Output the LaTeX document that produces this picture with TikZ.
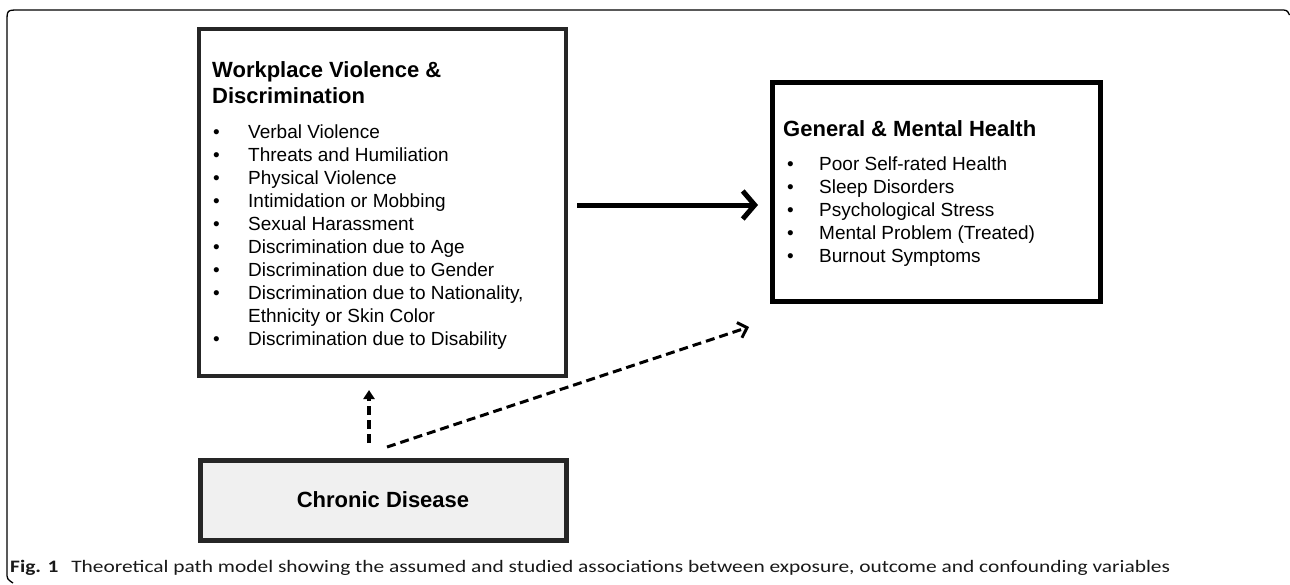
\documentclass[tikz,border=0pt]{standalone}
\usepackage{fontspec}
\setmainfont{Liberation Sans}
\newfontfamily\capfont{Carlito}
\usetikzlibrary{arrows.meta,calc}
\begin{document}
\begin{tikzpicture}[x=1pt,y=-1pt,
  box/.style={draw, rectangle, inner sep=0pt, outer sep=0pt, line join=miter},
  ttl/.style={anchor=base west, inner sep=0pt, font=\fontsize{22}{26.5}\selectfont\bfseries},
  itm/.style={anchor=base west, inner sep=0pt, font=\fontsize{19}{23}\selectfont},
  dsh/.style={line width=3.5pt, dash pattern=on 9pt off 5pt},
]
\useasboundingbox (0,0) rectangle (1290,584);
% outer frame
\draw[line width=1.3pt] (1289.5,15) .. controls (1287,10) .. (1280,10) -- (19,10)
  .. controls (7,10) .. (7,22) -- (7,572) .. controls (7,579) .. (13,583);
% boxes
\node[box, line width=4.5pt, draw=black!85, minimum width=367pt, minimum height=347pt] (wvd) at (382.5,202.5) {};
\node[box, line width=5pt, minimum width=328pt, minimum height=219pt] (gmh) at (936,191.5) {};
\node[box, line width=5pt, draw=black!85, fill=gray!12, minimum width=366pt, minimum height=80pt,
  font=\fontsize{22}{26}\selectfont\bfseries] (cd) at (383,500) {Chronic Disease};
% left box text
\node[ttl] (t1) at (212,77) {Workplace Violence \&};
\node[ttl] (t2) at (212,103.5) {Discrimination};
\node[itm] (lb1) at (213,138) {•};  \node[itm] (l1) at (248,138) {Verbal Violence};
\node[itm] (lb2) at (213,161) {•};  \node[itm] (l2) at (248,161) {Threats and Humiliation};
\node[itm] (lb3) at (213,184) {•};  \node[itm] (l3) at (248,184) {Physical Violence};
\node[itm] (lb4) at (213,207) {•};  \node[itm] (l4) at (248,207) {Intimidation or Mobbing};
\node[itm] (lb5) at (213,230) {•};  \node[itm] (l5) at (248,230) {Sexual Harassment};
\node[itm] (lb6) at (213,253) {•};  \node[itm] (l6) at (248,253) {Discrimination due to Age};
\node[itm] (lb7) at (213,276) {•};  \node[itm] (l7) at (248,276) {Discrimination due to Gender};
\node[itm] (lb8) at (213,299) {•};  \node[itm] (l8) at (248,299) {Discrimination due to Nationality,};
\node[itm] (l8b) at (248,322) {Ethnicity or Skin Color};
\node[itm] (lb9) at (213,345) {•};  \node[itm] (l9) at (248,345) {Discrimination due to Disability};
% right box text
\node[ttl] (t3) at (783,136) {General \& Mental Health};
\node[itm] (rb1) at (787,170) {•};  \node[itm] (r1) at (819,170) {Poor Self-rated Health};
\node[itm] (rb2) at (787,193) {•};  \node[itm] (r2) at (819,193) {Sleep Disorders};
\node[itm] (rb3) at (787,216) {•};  \node[itm] (r3) at (819,216) {Psychological Stress};
\node[itm] (rb4) at (787,239) {•};  \node[itm] (r4) at (819,239) {Mental Problem (Treated)};
\node[itm] (rb5) at (787,262) {•};  \node[itm] (r5) at (819,262) {Burnout Symptoms};
% arrows
\draw[line width=5pt, -{Straight Barb[length=12pt,width=28pt]}]
  ($(wvd.east)+(11,2.5)$) -- ($(wvd.east -| gmh.west)+(-14,2.5)$);
\draw[dsh, line width=3pt, -{Straight Barb[length=8pt,width=16pt]}]
  ($(cd.north)+(4,-13)$) -- ($(gmh.south west)+(-23,26)$);
\draw[dsh, -{Triangle[length=9pt,width=11pt]}]
  ($(cd.north)+(-14,-17)$) -- ($(wvd.south)+(-13.5,14)$);
% caption
\node[anchor=base west, inner sep=0pt, font=\capfont\fontsize{17.5}{20}\selectfont, text=black!90] (cap) at (10,572)
  {\resizebox{1160pt}{\height}{\textbf{Fig. 1}\hspace{0.6em}Theoretical path model showing the assumed and studied associations between exposure, outcome and confounding variables}};
\end{tikzpicture}
\end{document}
